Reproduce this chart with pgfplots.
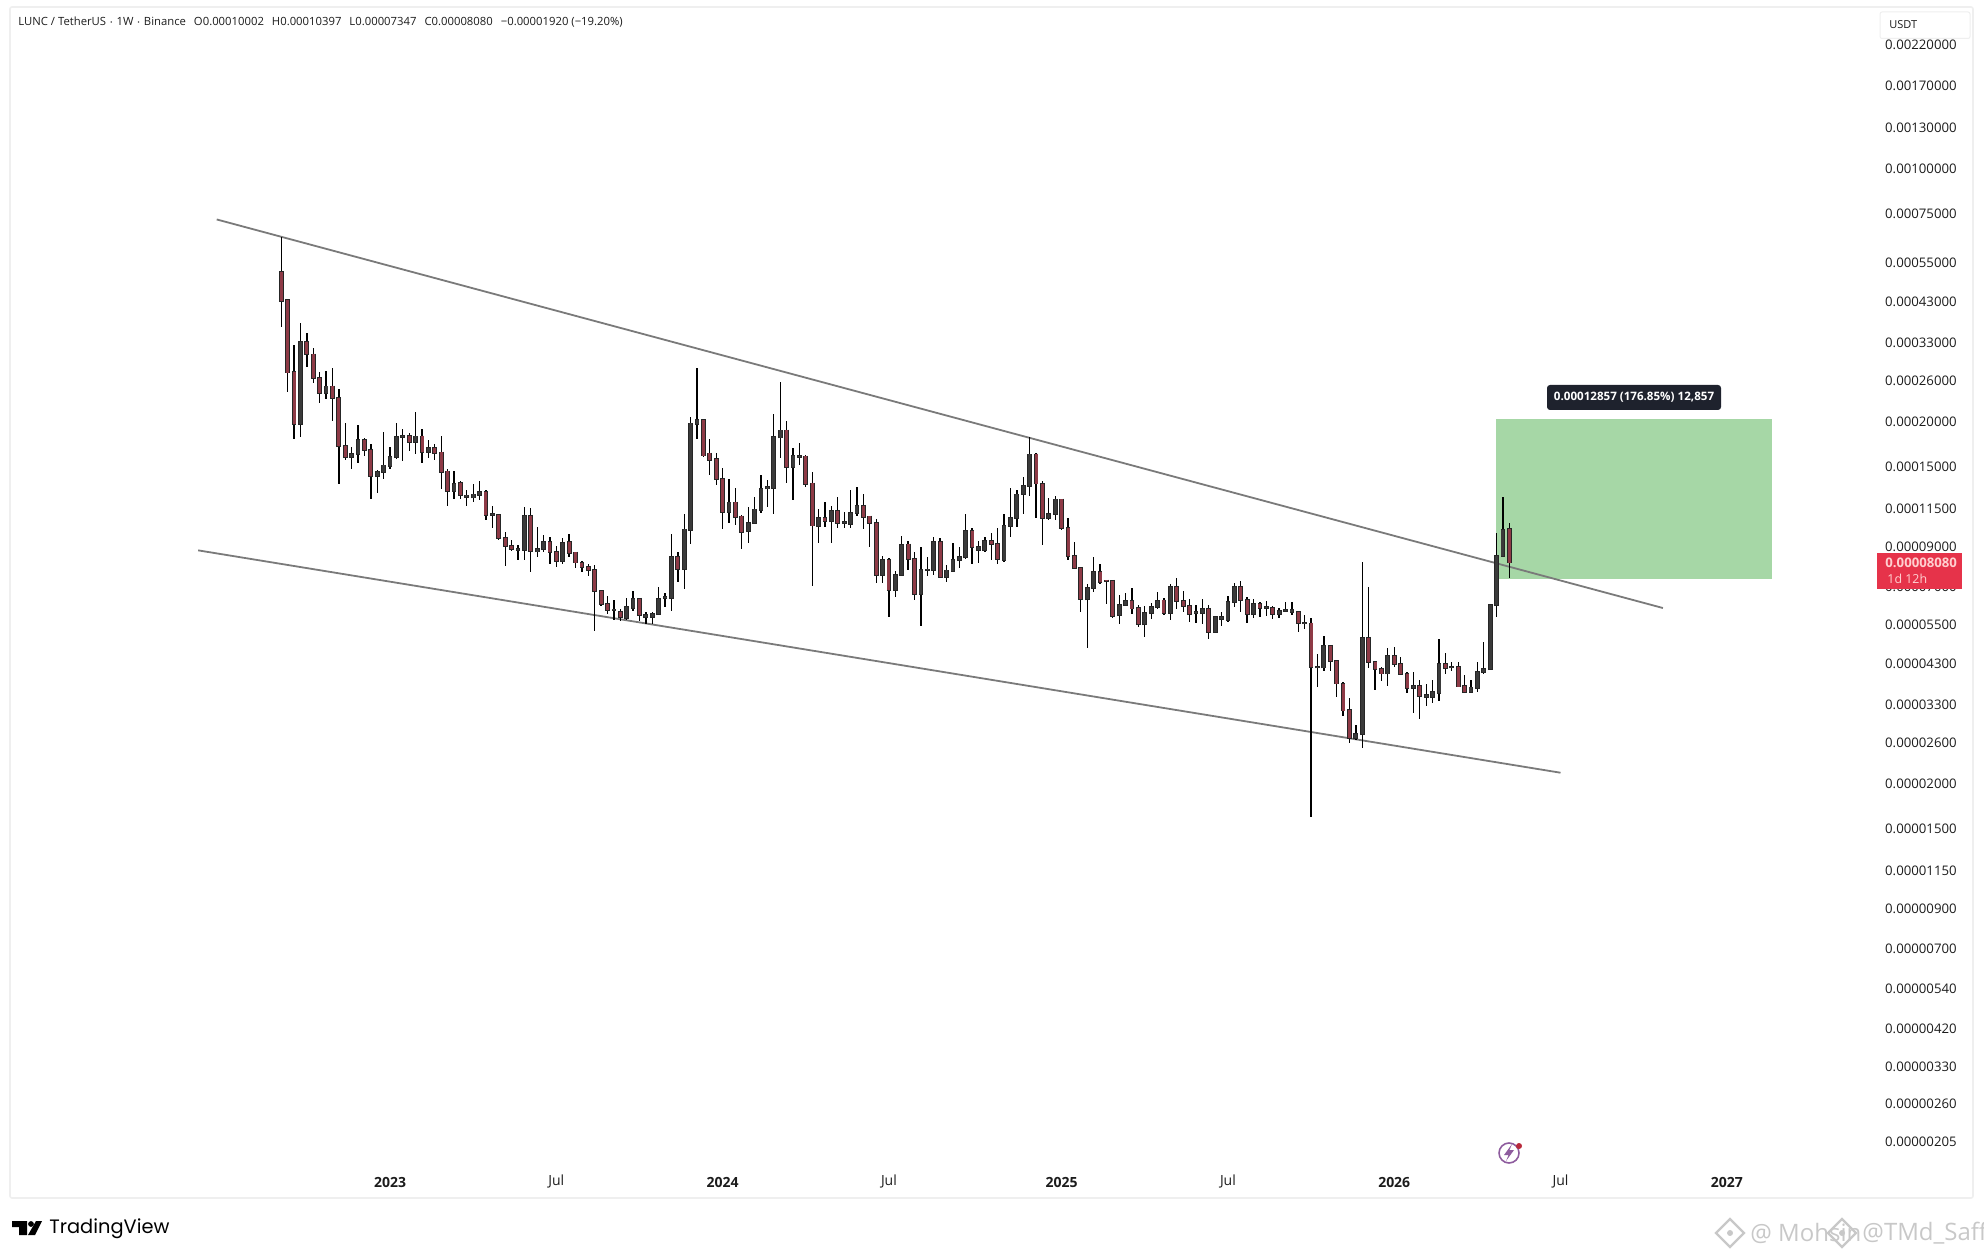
\documentclass[border=0pt]{standalone}
\usepackage{pgfplots}
\usepackage{pgfplotstable}
\usepackage{fontspec}
\pgfplotsset{compat=1.18}
\setmainfont{Open Sans}
\newfontfamily\logofont{Poppins}[Scale=1]
\definecolor{bear}{HTML}{8E3A46}
\definecolor{bull}{HTML}{3A3A3A}
\definecolor{trend}{HTML}{7A7A7A}
\definecolor{zone}{HTML}{A6D7A6}
\definecolor{frame}{HTML}{EFEFEF}
\definecolor{tip}{HTML}{1E222D}
\definecolor{tag}{HTML}{E6334A}
\definecolor{tagtext}{HTML}{FFD0D0}
\definecolor{lab}{HTML}{1C1C1C}
\definecolor{wm}{HTML}{C8C8C8}
\definecolor{bolt}{HTML}{8E5C9E}
\newcommand\fs[1]{\fontsize{#1}{#1}\selectfont}
% prices in units of 0.00000001 USDT, weekly candles numbered from the first week
\pgfplotstableread{
i o h l c
0 51300 64400 36300 42800
1 43000 43400 23900 27100
2 27200 32200 17800 19500
4 33000 34800 28000 30400
5 30400 31600 25400 26200
6 26200 27200 22300 23800
8 24800 27850 19950 23050
9 23100 24400 13300 17000
10 17000 19600 15500 15800
13 17650 17850 15950 16550
14 16600 17150 12100 14050
20 18100 18400 16450 17400
22 18050 18900 15250 16350
24 16750 17150 15550 16200
25 16300 18100 12950 14400
26 14450 14700 11600 12750
28 13450 13550 12100 12400
32 12700 12830 10600 10950
34 10950 11000 9330 9430
35 9470 9800 7920 8980
36 9000 9330 8700 8810
39 10900 11460 7600 8680
42 9200 9540 7990 8660
43 8660 8985 7880 8160
45 9200 9680 8390 8570
46 8620 8660 7790 8080
47 8080 8160 7630 7840
48 7880 8010 7440 7700
49 7720 7960 5240 6730
50 6750 6790 6140 6200
51 6200 6540 5810 5975
53 5910 6000 5570 5700
56 6420 6460 5580 5780
62 8400 8660 7150 7740
66 20000 20150 15850 15970
67 16200 17700 14100 15530
68 15600 16200 13250 13730
69 13790 14730 9990 11150
71 11860 12970 10270 10810
72 10850 10950 8790 9800
79 18750 19900 13400 14830
82 15900 16040 13060 13330
83 13380 14360 6960 10230
85 10760 11860 10120 10550
87 11250 12250 10090 10400
91 11610 12510 10010 10810
92 10850 10890 8940 10380
93 10400 10670 7110 7460
95 8230 8330 5700 6790
98 9080 9270 7708 8250
99 8280 8620 6367 6610
103 9230 9430 7310 7360
108 9900 10050 7990 8920
111 9270 9740 8214 9100
112 9100 10090 7990 8250
118 16100 16210 10720 13360
119 13360 13610 9020 10740
122 12090 12120 9943 10050
123 10090 10720 8214 8430
124 8440 9190 7780 7790
125 7820 7880 5910 6400
128 7630 8010 7050 7150
129 7220 7232 6200 7170
130 7200 7220 5690 5760
133 6330 6860 5830 6030
134 6060 6170 5370 5450
138 6350 6440 5790 5850
140 6930 7310 6000 6330
141 6330 6760 5910 6130
142 6130 6410 5540 5830
145 6030 6170 4970 5200
150 6930 7200 5890 6370
151 6370 6510 5510 5830
153 6210 6300 5700 6060
155 6060 6130 5650 5810
159 5910 5940 5200 5500
161 5490 5690 1600 4150
164 4760 4780 4060 4320
165 4320 4330 3440 3740
166 3740 3790 3040 3150
167 3160 3420 2570 2640
170 5010 6930 4120 4290
171 4300 4330 3600 4095
172 4110 4160 3800 3990
174 4460 4730 4160 4230
175 4230 4440 3950 3970
176 3990 4020 3530 3630
178 3690 3826 2980 3460
182 4240 4550 3990 4120
184 4160 4300 3650 3670
185 3680 3950 3530 3550
192 10002 10397 7347 8080
}\bearT
\pgfplotstableread{
i o h l c
3 19500 37200 18000 33000
7 23800 27400 22850 24800
11 15850 16900 14650 16150
12 16150 19400 15200 17650
15 14050 14570 12550 14400
16 14400 18600 13800 15000
17 14950 16850 14700 15800
18 15800 19600 15600 18000
19 18000 18900 15450 18100
21 17400 21100 16150 18050
23 16350 17650 15700 16800
27 12750 14480 12100 13350
29 12250 12830 11600 12400
30 12220 13300 11850 12480
31 12430 13550 12050 12700
33 10950 11600 10100 11000
37 8750 9040 8210 8830
38 8750 11500 8210 10900
40 8670 10160 8390 8810
41 8800 9640 8660 9200
44 8160 9430 7990 9170
52 5970 6370 5610 6000
54 5690 6440 5606 6100
55 6060 6760 5950 6420
57 5700 5910 5460 5800
58 5700 5910 5450 5830
59 5810 6910 5780 6420
60 6450 6650 6100 6490
61 6450 9680 5950 8390
63 7740 11000 6820 9990
64 9950 20400 9100 19600
65 19570 27850 17700 20000
70 11150 13730 10380 11860
73 9860 11540 9170 10420
74 10380 12250 10340 11340
75 11270 14120 11060 12940
76 12940 13670 11540 13060
77 13000 20800 11000 17950
78 17900 25500 15700 18750
80 14850 16730 12040 15930
81 15860 17270 15040 15970
84 10200 11340 9170 10760
86 10530 11610 9170 11220
88 10400 11170 10050 10470
89 10320 12830 10090 11110
90 11090 13110 10880 11610
94 7470 8440 7110 8230
96 6780 7670 6480 7490
97 7470 9600 7440 9060
100 6620 8910 5400 7710
101 7700 8390 7420 7740
102 7710 9540 7470 9230
104 7370 7960 7130 7690
105 7660 9140 7630 8210
106 8200 8910 7820 8390
107 8350 11020 8250 9900
109 8750 9290 8040 8940
110 8740 9500 8660 9270
113 8230 11000 8100 10230
114 10180 13020 9500 10760
115 10740 12830 10120 12480
116 12500 13910 11020 13190
117 13160 17950 12380 16100
120 10720 12170 10600 11040
121 11000 12380 10600 12090
126 6390 7070 4680 6890
127 6880 8360 6710 7630
131 5780 6570 5450 6170
132 6170 6650 6160 6330
135 5450 6130 5040 5870
136 5850 6260 5630 6090
137 6080 6690 6000 6340
139 5860 7070 5606 6930
143 5850 6170 5500 5890
144 5850 6410 5480 6030
146 5200 5750 5180 5730
147 5630 5890 5390 5730
148 5610 6550 5540 6290
149 6290 7110 6080 6930
152 5830 6410 5670 6210
154 6060 6330 5750 6100
156 5830 6040 5670 5950
157 5950 6280 5910 5974
158 5900 6280 5790 5990
160 5490 5790 5280 5510
162 4140 4510 3650 4160
163 4140 5080 4060 4760
168 2640 2870 2610 2710
169 2710 8130 2490 5010
173 3990 4680 3690 4460
177 3640 4030 3110 3680
179 3430 3725 3240 3480
180 3430 3826 3310 3545
181 3520 4960 3350 4240
183 4140 4280 4060 4160
186 3550 3826 3530 3650
187 3640 4280 3550 4030
188 4020 4860 3990 4110
189 4095 6210 4077 6180
190 6180 9740 5700 8440
191 8430 12250 8390 9960
}\bullT
\begin{document}
\begin{tikzpicture}
\useasboundingbox (0,0) rectangle (992pt,629pt);
\begin{scope}[x=0.5pt,y=-0.5pt,shift={(0pt,629pt)}]
\draw[frame,line width=0.8pt,rounded corners=1pt] (10,7) rectangle (1973,1198);
\end{scope}
\begin{axis}[
  at={(0,0)},anchor=south west,scale only axis,width=992pt,height=629pt,
  xmin=-43.98,xmax=266.21,ymode=log,ymin=96.575,ymax=290440,
  axis line style={draw=none},major tick length=0pt,minor tick length=0pt,
  clip=false,
  xtick={17,43,69,95,122,148,174,200,226},
  xticklabels={\textbf{2023},Jul,\textbf{2024},Jul,\textbf{2025},Jul,\textbf{2026},Jul,\textbf{2027}},
  x tick label style={anchor=center,inner sep=0pt,yshift=38pt,font=\fs{7},text=lab},
  yticklabel pos=right,
  ytick={220000,170000,130000,100000,75000,55000,43000,33000,26000,20000,15000,11500,9000,7000,5500,4300,3300,2600,2000,1500,1150,900,700,540,420,330,260,205},
  yticklabels={0.00220000,0.00170000,0.00130000,0.00100000,0.00075000,0.00055000,0.00043000,0.00033000,0.00026000,0.00020000,0.00015000,0.00011500,0.00009000,0.00007000,0.00005500,0.00004300,0.00003300,0.00002600,0.00002000,0.00001500,0.00001150,0.00000900,0.00000700,0.00000540,0.00000420,0.00000330,0.00000260,0.00000205},
  y tick label style={anchor=east,inner sep=0pt,xshift=-13.5pt,yshift=-0.8pt,font=\fs{6.6},text=lab},
]
\addplot[draw=none,fill=zone,forget plot] coordinates {(189.9,20121) (233,20121) (233,7264) (189.9,7264)} -- cycle;
\addplot[trend,line width=0.9pt,forget plot] coordinates {(-10.1,71830) (216,6053)};
\addplot[trend,line width=0.9pt,forget plot] coordinates {(-13,8737) (200,2121)};
% wicks
\addplot[draw=none,forget plot,error bars/.cd,y dir=both,y explicit,error mark=none,
  error bar style={black,line width=0.65pt}]
  table[x=i,y=o,y error plus expr=\thisrow{h}-\thisrow{o},y error minus expr=\thisrow{o}-\thisrow{l}] {\bearT};
\addplot[draw=none,forget plot,error bars/.cd,y dir=both,y explicit,error mark=none,
  error bar style={black,line width=0.65pt}]
  table[x=i,y=o,y error plus expr=\thisrow{h}-\thisrow{o},y error minus expr=\thisrow{o}-\thisrow{l}] {\bullT};
% bodies: dark outline, then fill
\addplot[draw=none,forget plot,error bars/.cd,y dir=minus,y explicit,error mark=none,
  error bar style={black!85,line width=2.4pt,shorten <=-0.4pt,shorten >=-0.4pt}]
  table[x=i,y=o,y error minus expr=\thisrow{o}-\thisrow{c}] {\bearT};
\addplot[draw=none,forget plot,error bars/.cd,y dir=minus,y explicit,error mark=none,
  error bar style={bear,line width=1.5pt}]
  table[x=i,y=o,y error minus expr=\thisrow{o}-\thisrow{c}] {\bearT};
\addplot[draw=none,forget plot,error bars/.cd,y dir=plus,y explicit,error mark=none,
  error bar style={black!85,line width=2.4pt,shorten <=-0.4pt,shorten >=-0.4pt}]
  table[x=i,y=o,y error plus expr=\thisrow{c}-\thisrow{o}] {\bullT};
\addplot[draw=none,forget plot,error bars/.cd,y dir=plus,y explicit,error mark=none,
  error bar style={bull,line width=1.5pt}]
  table[x=i,y=o,y error plus expr=\thisrow{c}-\thisrow{o}] {\bullT};
\end{axis}
\begin{scope}[x=0.5pt,y=-0.5pt,shift={(0pt,629pt)}]
% header
\node[anchor=west,inner sep=0pt,text=lab,font=\fs{5.65}] at (18,22.5) {LUNC / TetherUS $\cdot$ 1W $\cdot$ Binance\hspace{4pt}O0.00010002\hspace{4pt}H0.00010397\hspace{4pt}L0.00007347\hspace{4pt}C0.00008080\hspace{4pt}\textminus0.00001920 (\textminus19.20\%)};
% unit box
\draw[frame,fill=white,line width=0.5pt,rounded corners=1pt] (1880,12) rectangle (1970,38.5);
\node[anchor=west,inner sep=0pt,text=lab,font=\fs{5.5}] at (1889,24.5) {USDT};
% last price tag
\fill[tag] (1877,553) rectangle (1962,589);
\node[anchor=west,inner sep=0pt,text=tagtext,font=\fs{6.6}\bfseries] at (1885,563) {0.00008080};
\node[anchor=west,inner sep=0pt,text=tagtext,font=\fs{6.2}] at (1887,579) {1d 12h};
% tooltip
\fill[tip,rounded corners=1.5pt] (1547,385) rectangle (1721,410);
\node[inner sep=0pt,text=white,font=\fs{5.8}\bfseries] at (1634,397.5) {0.00012857 (176.85\%) 12,857};
% bolt icon
\draw[bolt,line width=0.8pt] (1509,1153) circle (10);
\fill[bolt] (1512,1144) -- (1504,1155) -- (1508.5,1155) -- (1506,1161) -- (1514,1150) -- (1509.5,1150) -- cycle;
\fill[tag!80!black] (1519,1146) circle (3);
% TradingView logo
\fill[black] (12,1221) -- (27,1221) -- (27,1235) -- (19,1235) -- (19,1227) -- (12,1227) -- cycle;
\fill[black] (31,1224) circle (2.9);
\fill[black] (36,1221) -- (42,1221) -- (35,1235) -- (28,1235) -- cycle;
\node[anchor=west,inner sep=0pt,text=black,font=\logofont\fs{9.7}] at (49,1228.5) {\pgfsetfillcolor{black}TradingView};
% watermark, two overlapping stamps
\foreach \dx/\tx in {1730/{@ Mohsin},1842/{@TMd\_Saffi}}{
\draw[wm,line width=1.1pt] (\dx-14,1233) -- (\dx,1219) -- (\dx+14,1233) -- (\dx,1247) -- cycle;
\fill[wm] (\dx,1233) circle (3);
\node[anchor=west,inner sep=0pt,text=wm,font=\fs{12}] at (\dx+20,1233) {\tx};
}
\end{scope}
\end{tikzpicture}
\end{document}
